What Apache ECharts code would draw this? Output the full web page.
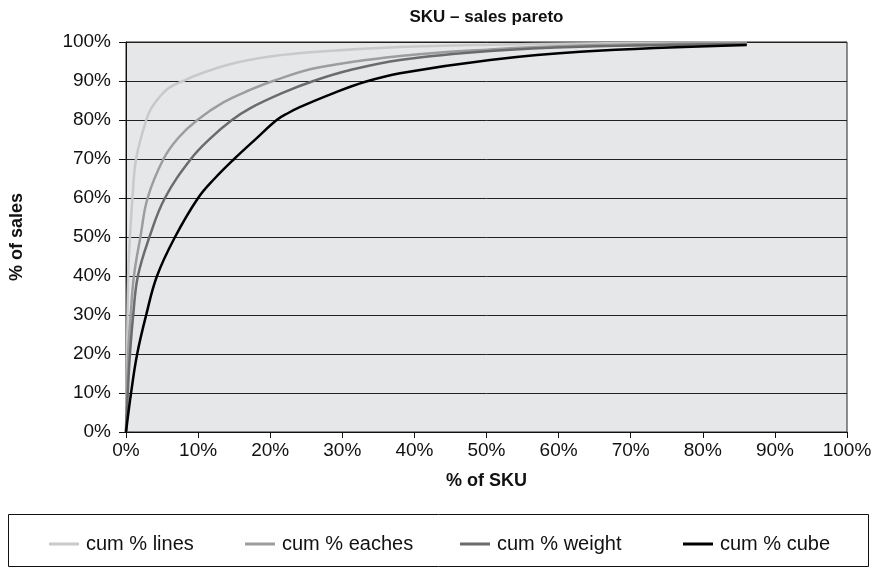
<!DOCTYPE html>
<html>
<head>
<meta charset="utf-8">
<script src="https://cdn.jsdelivr.net/npm/echarts@6/dist/echarts.min.js"></script>
<style>
  html, body { margin: 0; padding: 0; background: #ffffff; }
  #chart { width: 879px; height: 575px; }
</style>
</head>
<body>
<div id="chart"></div>
<script>
// Cumulative share of sales against cumulative share of SKUs, as [% of SKU, % of sales]
const cumLines = [
  [0, 0], [0.15, 20], [0.3, 40], [0.55, 50], [0.9, 60], [1.4, 70], [2.8, 80],
  [3.5, 83], [4.7, 86], [6, 88.3], [7.9, 90], [10.2, 91.8], [14.8, 94.5],
  [20, 96.3], [26.5, 97.5], [38, 98.7], [50.5, 99.3], [63, 99.6], [86.1, 99.9]
];
const cumEaches = [
  [0, 0], [0.3, 20], [0.65, 30], [1.1, 40], [2.0, 50], [3.0, 60], [5.2, 70],
  [7.3, 75.5], [9.9, 80], [13.5, 84.5], [17.2, 87.7], [20.4, 90], [26.5, 93.4],
  [38, 96.4], [50.5, 98.1], [63, 99.1], [86.1, 99.8]
];
const cumWeight = [
  [0, 0], [0.25, 10], [0.55, 20], [1.0, 30], [1.65, 40], [3.25, 50], [5.4, 60],
  [9.0, 70], [11.7, 75.3], [14.7, 80], [17.2, 83], [21.8, 87], [26, 90],
  [31.1, 92.8], [38, 95.4], [50.5, 97.7], [63, 98.8], [86.1, 99.5]
];
const cumCube = [
  [0, 0], [0.7, 10], [1.55, 20], [2.8, 30], [4.3, 40], [6.8, 50], [10, 60],
  [12.3, 65], [15, 70], [18.1, 75.3], [20.9, 80], [22.5, 81.8], [24.1, 83.3],
  [28.8, 86.9], [33.2, 89.8], [38, 92.0], [50.5, 95.4], [63, 97.5], [86.1, 99.2]
];

const seriesNames = ['cum % lines', 'cum % eaches', 'cum % weight', 'cum % cube'];
const seriesColors = ['#c9c9c9', '#9d9d9d', '#6b6b6b', '#000000'];
const seriesData = [cumLines, cumEaches, cumWeight, cumCube];

const chartTitle = 'SKU – sales pareto';
const xAxisTitle = '% of SKU';
const yAxisTitle = '% of sales';

const FONT = '"Liberation Sans", Arial, Helvetica, sans-serif';

const gridBox = { left: 126, right: 32, top: 42, bottom: 143 };
const plotCenterX = gridBox.left + (879 - gridBox.left - gridBox.right) / 2;
// left edge of each legend entry inside the framed legend strip
const legendLefts = [44, 240, 455, 678];

const chart = echarts.init(document.getElementById('chart'), null, { renderer: 'canvas' });

chart.setOption({
  animation: false,
  backgroundColor: '#ffffff',
  textStyle: { fontFamily: FONT },
  grid: {
    left: gridBox.left, right: gridBox.right, top: gridBox.top, bottom: gridBox.bottom,
    show: true, backgroundColor: '#e6e7e8', borderColor: '#222222', borderWidth: 1
  },
  graphic: [
    {
      type: 'text', x: plotCenterX, y: 9,
      style: { text: chartTitle, fill: '#111', font: 'bold 17px ' + FONT, textAlign: 'center' }
    },
    {
      type: 'rect', shape: { x: 8.5, y: 514.5, width: 860, height: 52 },
      style: { fill: 'none', stroke: '#111', lineWidth: 1 }, z: 0
    }
  ],
  legend: seriesNames.map((name, i) => ({
    data: [name],
    left: legendLefts[i], top: 529,
    icon: 'rect', itemWidth: 30, itemHeight: 3, itemGap: 0,
    textStyle: { fontFamily: FONT, fontSize: 20, color: '#111', padding: [0, 0, 0, 2] }
  })),
  xAxis: {
    type: 'value', min: 0, max: 100, interval: 10,
    name: xAxisTitle, nameLocation: 'middle', nameGap: 40,
    nameTextStyle: { fontFamily: FONT, fontWeight: 'bold', fontSize: 18, color: '#111' },
    axisLine: { show: true, lineStyle: { color: '#111', width: 1 } },
    axisTick: { show: true, inside: false, length: 6, lineStyle: { color: '#111' } },
    axisLabel: { formatter: '{value}%', fontSize: 19, color: '#111', margin: 9 },
    splitLine: { show: false }
  },
  yAxis: {
    type: 'value', min: 0, max: 100, interval: 10,
    name: yAxisTitle, nameLocation: 'middle', nameGap: 100, nameRotate: 90,
    nameTextStyle: { fontFamily: FONT, fontWeight: 'bold', fontSize: 18, color: '#111' },
    axisLine: { show: true, lineStyle: { color: '#111', width: 1 } },
    axisTick: { show: true, inside: false, length: 7, lineStyle: { color: '#111' } },
    axisLabel: { formatter: '{value}%', fontSize: 19, color: '#111', margin: 15 },
    splitLine: { show: true, lineStyle: { color: '#222222', width: 1 } }
  },
  series: seriesNames.map((name, i) => ({
    name: name,
    type: 'line',
    data: seriesData[i],
    showSymbol: false,
    symbol: 'none',
    smooth: 0.4,
    color: seriesColors[i],
    lineStyle: { color: seriesColors[i], width: 2.5, cap: 'butt' },
    z: 2 + i
  }))
});
</script>
</body>
</html>
